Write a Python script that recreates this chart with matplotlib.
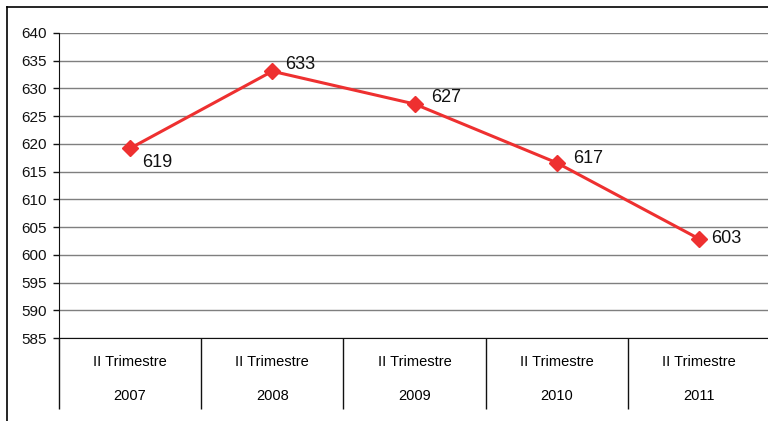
import matplotlib
matplotlib.use("Agg")
import matplotlib.pyplot as plt
from matplotlib.lines import Line2D

plt.rcParams['font.family'] = ['Liberation Sans', 'DejaVu Sans']

quarters = ["II Trimestre"] * 5
years = ["2007", "2008", "2009", "2010", "2011"]
values = [619.2, 633.1, 627.2, 616.6, 602.9]
value_labels = ["619", "633", "627", "617", "603"]
y_ticks = [585, 590, 595, 600, 605, 610, 615, 620, 625, 630, 635, 640]

W, H = 768, 421
fig = plt.figure(figsize=(W / 100, H / 100), dpi=100)
ax = fig.add_axes([59 / W, 1 - 338 / H, (770 - 59) / W, (338 - 33) / H])

x = list(range(len(values)))
ax.plot(x, values, color="#EE3030", lw=2.2, marker="D", ms=8.5,
        markerfacecolor="#EE3030", markeredgecolor="#EE3030", zorder=5, clip_on=False)

offsets = [(9, -10), (9, 5), (12, 5), (12, 3), (9, 0)]
for xi, v, lab, off in zip(x, values, value_labels, offsets):
    ax.annotate(lab, (xi, v), xytext=off, textcoords="offset points",
                ha="left", va="center", fontsize=13, color="#111111")

ax.set_xlim(-0.5, len(values) - 0.5)
ax.set_ylim(585, 640)
ax.set_yticks(y_ticks)
ax.set_yticklabels([str(t) for t in y_ticks], fontsize=11)
ax.grid(axis="y", color="#7f7f7f", lw=1.0)
ax.set_axisbelow(True)
for s in ["top", "right"]:
    ax.spines[s].set_visible(False)
ax.spines["left"].set_color("#111111")
ax.spines["bottom"].set_color("#111111")
ax.tick_params(axis="y", direction="out", length=4, width=1, pad=5, colors="#111111")

ax.set_xticks([])
ax.set_xticks([i - 0.5 for i in range(len(values) + 1)], minor=True)
ax.tick_params(axis="x", which="minor", direction="out", length=51, width=1, color="#111111")
ax.tick_params(axis="x", which="major", length=0)

ph = 338 - 33
for xi, q, yr in zip(x, quarters, years):
    ax.text(xi, -24 / ph, q, transform=ax.get_xaxis_transform(), ha="center", va="center", fontsize=10.5)
    ax.text(xi, -58 / ph, yr, transform=ax.get_xaxis_transform(), ha="center", va="center", fontsize=10.5)

fig.add_artist(Line2D([6.5 / W, 6.5 / W], [0, 1 - 6.5 / H], color="black", lw=1.2, transform=fig.transFigure))
fig.add_artist(Line2D([6.5 / W, 1], [1 - 6.5 / H, 1 - 6.5 / H], color="black", lw=1.2, transform=fig.transFigure))

fig.savefig("out.png", dpi=100, facecolor="white")
